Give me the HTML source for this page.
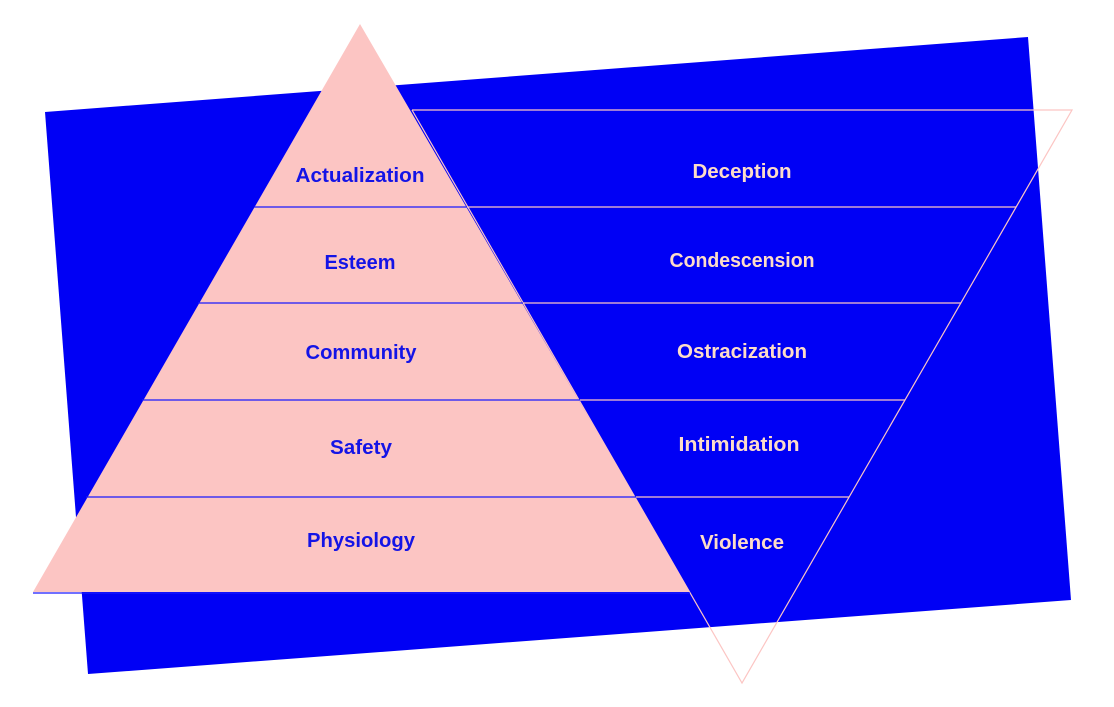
<!DOCTYPE html>
<html><head><meta charset="utf-8"><style>html,body{margin:0;padding:0;background:#fff}svg{display:block}text{font-family:"Liberation Sans",sans-serif;font-weight:bold;font-size:20px;text-anchor:middle}</style></head>
<body>
<svg width="1114" height="707" viewBox="0 0 1114 707" xmlns="http://www.w3.org/2000/svg">
<polygon points="45,112 1028,37 1071,600 88,674" fill="#0000f5"/>
<g stroke="#fcc5c3" stroke-width="1.2" fill="none">
<polyline points="412,110 1072,110 742,683 412,110"/>
<line x1="467" y1="207" x2="1016" y2="207"/>
<line x1="523" y1="303" x2="961" y2="303"/>
<line x1="580" y1="400" x2="905" y2="400"/>
<line x1="636" y1="497" x2="849" y2="497"/>
</g>
<polygon points="360,24 690,592 33,592" fill="#fcc5c3"/>
<g stroke="#1a1aff" stroke-width="1.2">
<line x1="254" y1="207" x2="467" y2="207"/>
<line x1="198" y1="303" x2="523" y2="303"/>
<line x1="142" y1="400" x2="580" y2="400"/>
<line x1="86" y1="497" x2="636" y2="497"/>
<line x1="33" y1="593" x2="690" y2="593"/>
</g>
<g fill="#1414e6">
<text x="360" y="182" textLength="129" lengthAdjust="spacingAndGlyphs">Actualization</text>
<text x="360" y="269" textLength="71" lengthAdjust="spacingAndGlyphs">Esteem</text>
<text x="361" y="359" textLength="111" lengthAdjust="spacingAndGlyphs">Community</text>
<text x="361" y="454" textLength="62" lengthAdjust="spacingAndGlyphs">Safety</text>
<text x="361" y="547" textLength="108" lengthAdjust="spacingAndGlyphs">Physiology</text>
</g>
<g fill="#fddcc8">
<text x="742" y="178" textLength="99" lengthAdjust="spacingAndGlyphs">Deception</text>
<text x="742" y="267" textLength="145" lengthAdjust="spacingAndGlyphs">Condescension</text>
<text x="742" y="358" textLength="130" lengthAdjust="spacingAndGlyphs">Ostracization</text>
<text x="739" y="451" textLength="121" lengthAdjust="spacingAndGlyphs">Intimidation</text>
<text x="742" y="549" textLength="84" lengthAdjust="spacingAndGlyphs">Violence</text>
</g>
</svg>
</body></html>
